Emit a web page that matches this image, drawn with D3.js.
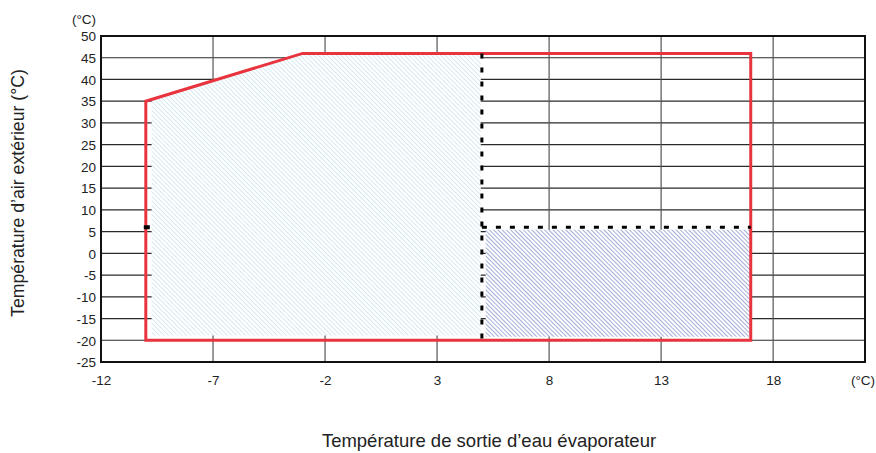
<!DOCTYPE html>
<html><head><meta charset="utf-8">
<script src="https://cdn.jsdelivr.net/npm/d3@7"></script>
<style>body{margin:0;background:#fff}svg{display:block}text{font-family:"Liberation Sans",Arial,sans-serif;fill:#222}</style>
</head><body><svg id="c" width="876" height="453"></svg>
<script>
const xTicks = [-12, -7, -2, 3, 8, 13, 18];
const yTicks = [-25, -20, -15, -10, -5, 0, 5, 10, 15, 20, 25, 30, 35, 40, 45, 50];
const envelope = [[-10, -20], [-10, 35], [-3, 46], [17, 46], [17, -20]];
const lightZone = [[-9.74, -18.9], [-9.74, 35.4], [-3, 46], [4.95, 46], [4.95, -18.9]];
const darkZone = [[5.17, -19.2], [5.17, 5.4], [17, 5.4], [17, -19.2]];
const dashV = [[5, 46], [5, -20]];
const dashH = [[5, 6], [17, 6]];
const marker = [-10, 6];
const unit = "(°C)";
const yTitle = "Température d’air extérieur (°C)";
const xTitle = "Température de sortie d’eau évaporateur";

const svg = d3.select("#c");
const x = d3.scaleLinear().domain([-12, 22.1]).range([101, 865]);
const y = d3.scaleLinear().domain([-25, 50]).range([362, 36]);

const defs = svg.append("defs");
function hatch(id, color, gap, w) {
  const p = defs.append("pattern").attr("id", id).attr("patternUnits", "userSpaceOnUse")
    .attr("width", gap).attr("height", gap).attr("patternTransform", "rotate(-45)");
  p.append("rect").attr("width", gap).attr("height", gap).attr("fill", "#fff");
  p.append("line").attr("x1", 0).attr("y1", 0).attr("x2", 0).attr("y2", gap)
    .attr("stroke", color).attr("stroke-width", w);
}
hatch("hl", "#c4e4ee", 3.2, 1.4);
hatch("hd", "#8392cc", 3, 1.5);

// grid
svg.append("g").selectAll("line").data(yTicks).join("line")
  .attr("x1", x.range()[0]).attr("x2", x.range()[1])
  .attr("y1", d => y(d)).attr("y2", d => y(d))
  .attr("stroke", "#2a2a2a").attr("stroke-width", 1.2);
svg.append("g").selectAll("line").data(xTicks.slice(1)).join("line")
  .attr("x1", d => x(d)).attr("x2", d => x(d))
  .attr("y1", y.range()[0]).attr("y2", y.range()[1])
  .attr("stroke", "#555").attr("stroke-width", 1.2);

const line = d3.line().x(d => x(d[0])).y(d => y(d[1]));
svg.append("path").attr("d", line(lightZone) + "Z").attr("fill", "url(#hl)");
svg.append("path").attr("d", line(darkZone) + "Z").attr("fill", "url(#hd)");

// frame
svg.append("rect").attr("x", x.range()[0]).attr("y", y.range()[1])
  .attr("width", x.range()[1] - x.range()[0]).attr("height", y.range()[0] - y.range()[1])
  .attr("fill", "none").attr("stroke", "#111").attr("stroke-width", 2);

// envelope
svg.append("path").attr("d", line(envelope) + "Z").attr("fill", "none")
  .attr("stroke", "#e8343e").attr("stroke-width", 3).attr("stroke-linejoin", "miter");

// dashed
[dashV, dashH].forEach(seg => {
  svg.append("path").attr("d", line(seg)).attr("fill", "none")
    .attr("stroke", "#000").attr("stroke-width", 3).attr("stroke-dasharray", "5,9");
});
svg.append("rect").attr("x", x(marker[0]) - 2).attr("y", y(marker[1]) - 2)
  .attr("width", 6).attr("height", 4).attr("fill", "#000");

const fmt = d => String(d);
// axes labels
const yAxis = d3.axisLeft(y).tickValues(yTicks).tickFormat(fmt).tickSize(0).tickPadding(5);
svg.append("g").attr("transform", `translate(${x.range()[0]},0)`).call(yAxis)
  .call(g => g.select(".domain").remove())
  .selectAll("text").attr("font-size", 13.5).attr("fill", "#222").attr("dy", "0.35em")
  .style("font-family", '"Liberation Sans",Arial,sans-serif');
const xAxis = d3.axisBottom(x).tickValues(xTicks).tickFormat(fmt).tickSize(0).tickPadding(13);
svg.append("g").attr("transform", `translate(0,${y.range()[0]})`).call(xAxis)
  .call(g => g.select(".domain").remove())
  .selectAll("text").attr("font-size", 13.5).attr("fill", "#222")
  .style("font-family", '"Liberation Sans",Arial,sans-serif');

svg.append("text").attr("x", 84).attr("y", 24).attr("text-anchor", "middle").attr("font-size", 13.5).text(unit);
svg.append("text").attr("x", 863).attr("y", 385).attr("text-anchor", "middle").attr("font-size", 13.5).text(unit);
svg.append("text").attr("transform", "translate(24,193) rotate(-90)").attr("text-anchor", "middle")
  .attr("font-size", 17.7).text(yTitle);
svg.append("text").attr("x", 489).attr("y", 447).attr("text-anchor", "middle").attr("font-size", 18.5).text(xTitle);
</script></body></html>
